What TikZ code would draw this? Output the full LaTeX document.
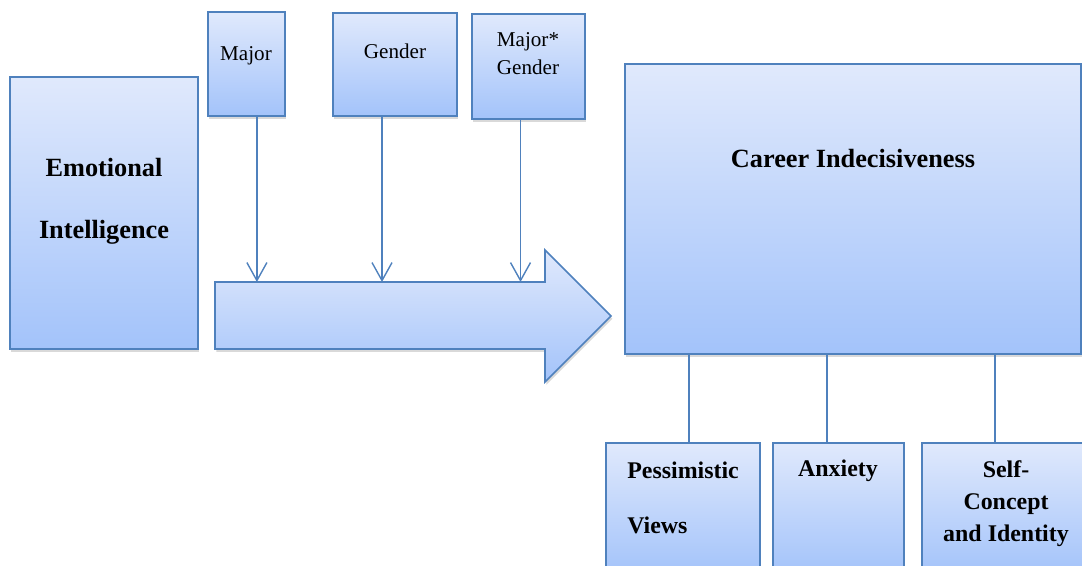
\documentclass[tikz,border=0pt]{standalone}
\usepackage{fontspec}
\setmainfont{Liberation Serif}
\usetikzlibrary{arrows.meta,shadows}
\definecolor{rimblue}{RGB}{79,129,189}
\definecolor{topblue}{RGB}{224,233,252}
\definecolor{lowblue}{RGB}{163,195,250}
\begin{document}
\begin{tikzpicture}[x=0.025cm,y=-0.025cm,
    box/.style={draw=rimblue,line width=1.1pt,top color=topblue,bottom color=lowblue,
      drop shadow={shadow xshift=1pt,shadow yshift=-2pt,opacity=0.3}},
    bigtxt/.style={font=\fontsize{18.7}{44}\selectfont\bfseries,align=center},
    lowtxt/.style={font=\fontsize{17}{22.7}\selectfont\bfseries,align=center},
    toptxt/.style={font=\fontsize{15}{20}\selectfont,align=center},
    pointer/.style={draw=rimblue,line width=1pt,-{Straight Barb[length=4.5mm,width=5mm]}},
    link/.style={draw=rimblue,line width=1pt}]
    \useasboundingbox (0,0) rectangle (1082,565);

    % boxes
    \node[box,minimum width=4.7cm,minimum height=6.8cm] (ei) at (104,213) {};
    \node[box,minimum width=1.925cm,minimum height=2.6cm] (major) at (246.5,64) {};
    \node[box,minimum width=3.1cm,minimum height=2.575cm] (gender) at (395,64.5) {};
    \node[box,minimum width=2.825cm,minimum height=2.625cm] (majgen) at (528.5,66.5) {};
    \node[box,minimum width=11.4cm,minimum height=7.25cm] (career) at (853,209) {};
    \node[box,minimum width=3.85cm,minimum height=3.3cm] (pess) at (683,509) {};
    \node[box,minimum width=3.275cm,minimum height=3.3cm] (anx) at (838.5,509) {};
    \node[box,minimum width=4.075cm,minimum height=3.3cm] (self) at (1003.5,509) {};

    % big arrow
    \draw[box] (215,282) -- (545,282) -- (545,250) -- (611,316) -- (545,382)
      -- (545,349) -- (215,349) -- cycle;
    \coordinate (shaft) at (215,282);

    % texts
    \node[bigtxt] (eitxt) at (104,201) {Emotional\\Intelligence};
    \node[bigtxt] (careertxt) at (853,159) {Career Indecisiveness};
    \node[toptxt] (majortxt) at (246,56) {Major};
    \node[toptxt] (gendertxt) at (395,51) {Gender};
    \node[toptxt] (majgentxt) at (528,54) {Major*\\Gender};
    \node[lowtxt,font=\fontsize{17}{39}\selectfont\bfseries,align=left,anchor=west,inner sep=0pt]
      (pesstxt) at (627,498) {Pessimistic\\Views};
    \node[lowtxt] (anxtxt) at (838,471) {Anxiety};
    \node[lowtxt] (selftxt) at (1006,504) {Self-\\Concept\\and Identity};

    \draw[pointer] ([xshift=0.26cm]major.south) -- ([xshift=0.26cm]major.south |- shaft);
    \draw[pointer] ([xshift=-0.325cm]gender.south) -- ([xshift=-0.325cm]gender.south |- shaft);
    \draw[pointer] ([xshift=-0.2cm]majgen.south) -- ([xshift=-0.2cm]majgen.south |- shaft);

    \draw[link] ([xshift=0.15cm]pess.north |- career.south) -- ([xshift=0.15cm]pess.north);
    \draw[link] ([xshift=-0.29cm]anx.north |- career.south) -- ([xshift=-0.29cm]anx.north);
    \draw[link] ([xshift=-0.21cm]self.north |- career.south) -- ([xshift=-0.21cm]self.north);

  \end{tikzpicture}
\end{document}
